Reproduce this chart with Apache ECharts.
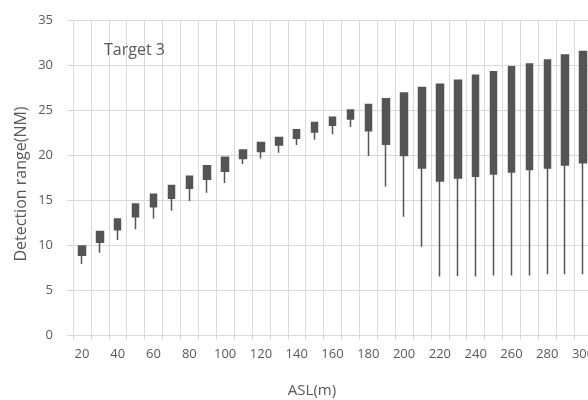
<!DOCTYPE html>
<html>
<head>
<meta charset="utf-8">
<style>
  html, body { margin: 0; padding: 0; background: #fff; }
  #chart { width: 588px; height: 400px; }
</style>
<script src="https://cdn.jsdelivr.net/npm/echarts@6/dist/echarts.min.js"></script>
</head>
<body>
<div id="chart"></div>
<script>
// altitude categories (m)
const altitudes = ['20', '30', '40', '50', '60', '70', '80', '90', '100', '110',
  '120', '130', '140', '150', '160', '170', '180', '190', '200', '210',
  '220', '230', '240', '250', '260', '270', '280', '290', '300'];
// box bottom / box top / whisker low (NM)
const boxLow = [8.85, 10.3, 11.7, 13.15, 14.25, 15.2, 16.3, 17.3, 18.2, 19.6,
  20.4, 21.1, 21.85, 22.55, 23.3, 24.0, 22.7, 21.2, 19.95, 18.55,
  17.1, 17.45, 17.65, 17.9, 18.1, 18.4, 18.55, 18.9, 19.15];
const boxHigh = [9.9, 11.5, 12.9, 14.55, 15.65, 16.6, 17.65, 18.8, 19.75, 20.55,
  21.4, 21.95, 22.8, 23.6, 24.2, 25.0, 25.6, 26.25, 26.9, 27.5,
  27.85, 28.3, 28.85, 29.25, 29.8, 30.1, 30.55, 31.1, 31.5];
const whiskerLow = [7.9, 9.15, 10.55, 11.75, 12.95, 13.8, 14.9, 15.8, 16.9, 19.0,
  19.6, 20.25, 21.1, 21.7, 22.3, 23.1, 19.9, 16.5, 13.15, 9.8,
  6.5, 6.55, 6.5, 6.6, 6.6, 6.6, 6.75, 6.75, 6.75];

let myChart = echarts.init(document.getElementById('chart'));
let textColor = '#595959';
let gridColor = '#d9d9d9';
let font = '"Open Sans", "Noto Sans", sans-serif';

// 数据整理: [open, close, lowest, highest]
let candleData = altitudes.map((v, i) => [boxLow[i], boxHigh[i], whiskerLow[i], boxHigh[i]]);

let option = {
    animation: false,
    textStyle: { fontFamily: font },
    grid: {
        left: 73,
        top: 20,
        width: 519,
        bottom: 65,
        containLabel: false,
        outerBoundsMode: 'none'
    },
    title: [{
        text: 'Target 3',
        left: 104,
        top: 42,
        padding: 0,
        textStyle: { color: textColor, fontSize: 16, fontWeight: 'normal', fontFamily: font }
    }, {
        text: 'ASL(m)',
        left: 312,
        top: 383,
        padding: 0,
        textAlign: 'center',
        textStyle: { color: textColor, fontSize: 15, fontWeight: 'normal', fontFamily: font }
    }],
    graphic: [{
        type: 'text',
        x: 21,
        y: 184,
        rotation: Math.PI / 2,
        style: {
            text: 'Detection range(NM)',
            fill: textColor,
            font: '16px ' + font,
            align: 'center',
            verticalAlign: 'middle'
        }
    }],
    xAxis: {
        type: 'category',
        data: altitudes,
        boundaryGap: true,
        axisLine: { lineStyle: { color: gridColor } },
        axisTick: {
            show: true,
            interval: 0,
            length: 5,
            lineStyle: { color: gridColor }
        },
        axisLabel: {
            interval: 1,
            color: textColor,
            fontSize: 13,
            margin: 13
        },
        splitLine: {
            show: true,
            interval: 0,
            lineStyle: { color: gridColor }
        }
    },
    yAxis: {
        type: 'value',
        min: 0,
        max: 35,
        interval: 5,
        axisLine: { show: false },
        axisTick: {
            show: true,
            length: 6,
            lineStyle: { color: gridColor }
        },
        axisLabel: {
            color: textColor,
            fontSize: 13,
            margin: 20
        },
        splitLine: {
            lineStyle: { color: gridColor }
        }
    },
    series: [{
        type: 'candlestick',
        data: candleData,
        barWidth: 7,
        itemStyle: {
            color: '#555555',
            color0: '#555555',
            borderColor: '#555555',
            borderColor0: '#555555',
            borderWidth: 1.5
        }
    }]
};

myChart.setOption(option);
</script>
</body>
</html>
